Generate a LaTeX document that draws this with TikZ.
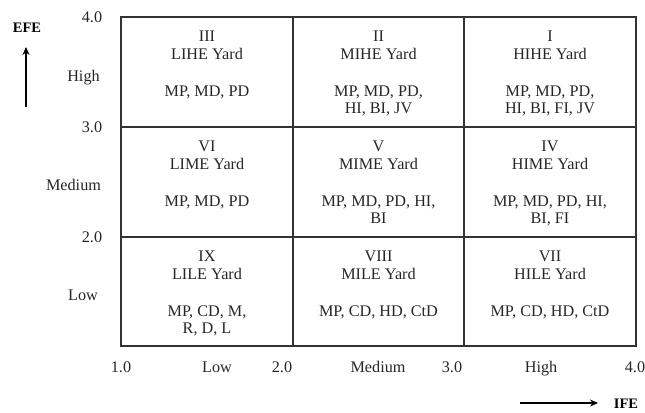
\documentclass[tikz,border=0pt]{standalone}
\usepackage{fontspec}
\setmainfont{Liberation Serif}
\usetikzlibrary{arrows.meta}
\begin{document}
\begin{tikzpicture}[x=1bp,y=-1bp,
  font=\fontsize{16.2bp}{16.5bp}\selectfont,
  text=black!85,
  cell/.style={draw=black!80, line width=1.1bp, inner sep=0pt, outer sep=0pt},
  lbl/.style={inner sep=0pt, anchor=base},
  axis/.style={inner sep=0pt, anchor=base},
  axisarrow/.style={line width=1.5bp, draw=black, -{Stealth[length=8bp,width=7bp]}},
  axisname/.style={inner sep=0pt, anchor=base, font=\fontsize{14.5bp}{16bp}\selectfont\bfseries, text=black}]
\useasboundingbox (0,0) rectangle (645,412);

% matrix of yards: columns 121|293|464|636, rows 17|127|237|346
\node[cell, minimum width=172bp, minimum height=110bp] (c3) at (207,72)  {};
\node[cell, minimum width=171bp, minimum height=110bp] (c2) at (378.5,72) {};
\node[cell, minimum width=172bp, minimum height=110bp] (c1) at (550,72)  {};
\node[cell, minimum width=172bp, minimum height=110bp] (c6) at (207,182) {};
\node[cell, minimum width=171bp, minimum height=110bp] (c5) at (378.5,182) {};
\node[cell, minimum width=172bp, minimum height=110bp] (c4) at (550,182) {};
\node[cell, minimum width=172bp, minimum height=109bp] (c9) at (207,291.5) {};
\node[cell, minimum width=171bp, minimum height=109bp] (c8) at (378.5,291.5) {};
\node[cell, minimum width=172bp, minimum height=109bp] (c7) at (550,291.5) {};

% cell contents
\foreach \c/\num/\yard in {c3/III/LIHE, c2/II/MIHE, c1/I/HIHE,
                           c6/VI/LIME, c5/V/MIME, c4/IV/HIME,
                           c9/IX/LILE, c8/VIII/MILE, c7/VII/HILE} {
  \node[lbl] (\c-num)  at ([yshift=-24.5bp]\c.north) {\num};
  \node[lbl] (\c-yard) at ([yshift=-42.5bp]\c.north) {\yard{} Yard};
}
% single-line lists sit on the first baseline, two-line lists on the second
\node[lbl] (c3-list) at ([yshift=-79.5bp]c3.north) {MP, MD, PD};
\node[lbl, align=center] (c2-list) at ([yshift=-96bp]c2.north) {MP, MD, PD,\\HI, BI, JV};
\node[lbl, align=center] (c1-list) at ([yshift=-96bp]c1.north) {MP, MD, PD,\\HI, BI, FI, JV};
\node[lbl] (c6-list) at ([yshift=-79.5bp]c6.north) {MP, MD, PD};
\node[lbl, align=center] (c5-list) at ([yshift=-96bp]c5.north) {MP, MD, PD, HI,\\BI};
\node[lbl, align=center] (c4-list) at ([yshift=-96bp]c4.north) {MP, MD, PD, HI,\\BI, FI};
\node[lbl, align=center] (c9-list) at ([yshift=-96bp]c9.north) {MP, CD, M,\\R, D, L};
\node[lbl] (c8-list) at ([yshift=-79.5bp]c8.north) {MP, CD, HD, CtD};
\node[lbl] (c7-list) at ([yshift=-79.5bp]c7.north) {MP, CD, HD, CtD};

% vertical scale (EFE)
\node[axis] (y4) at (92,22.5)  {4.0};
\node[axis] (y3) at (92,132.5) {3.0};
\node[axis] (y2) at (92,242.5) {2.0};
\node[axis] (yH) at (83.5,81.5)  {High};
\node[axis] (yM) at (73.5,190.5) {Medium};
\node[axis] (yL) at (83,300.5)   {Low};

% horizontal scale (IFE)
\node[axis] (x1) at (121,372.5) {1.0};
\node[axis] (x2) at (282,372.5) {2.0};
\node[axis] (x3) at (452,372.5) {3.0};
\node[axis] (x4) at (635,372.5) {4.0};
\node[axis] (xL) at (217,372.5) {Low};
\node[axis] (xM) at (378,372.5) {Medium};
\node[axis] (xH) at (541,372.5) {High};

% axis names with direction arrows
\node[axisname] (efe) at (27,32.5) {EFE};
\coordinate (efeTail) at (26,107);
\coordinate (efeHead) at (26,47);
\draw[axisarrow] (efeTail) -- (efeHead);

\node[axisname] (ife) at (626,408.5) {IFE};
\coordinate (ifeTail) at (520,403);
\coordinate (ifeHead) at (598,403);
\draw[axisarrow] (ifeTail) -- (ifeHead);
\end{tikzpicture}
\end{document}
